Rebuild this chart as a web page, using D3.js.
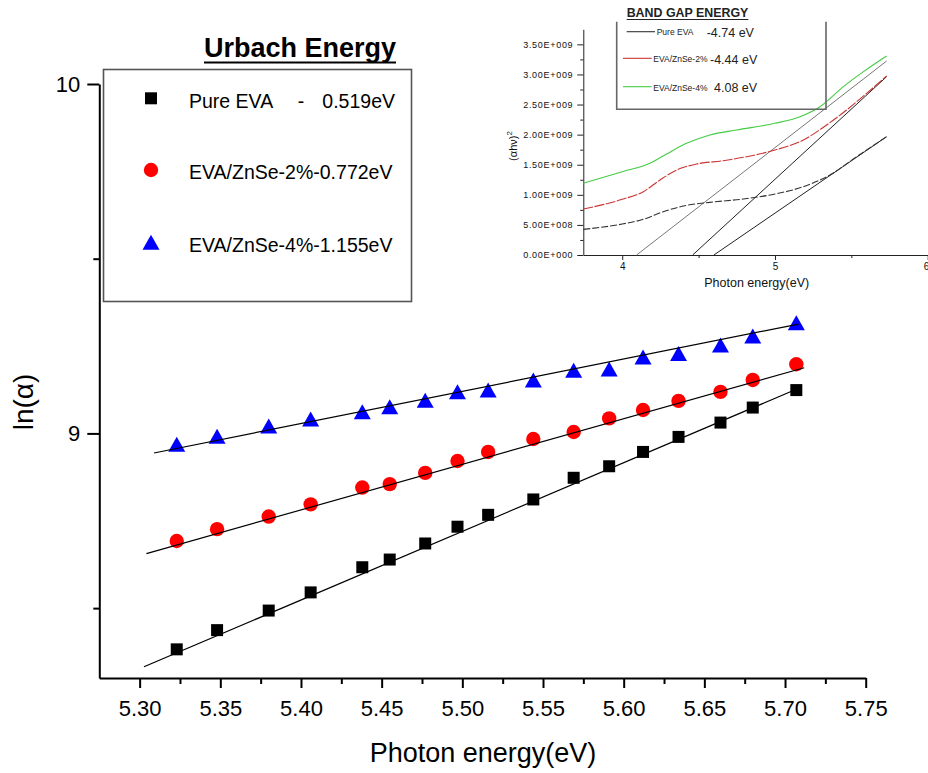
<!DOCTYPE html>
<html>
<head>
<meta charset="utf-8">
<script src="https://cdn.jsdelivr.net/npm/d3@7"></script>
<style>
  html, body { margin: 0; padding: 0; background: #fff; }
  svg { display: block; font-family: "Liberation Sans", Arial, sans-serif; }
</style>
</head>
<body>
<svg id="chart" width="928" height="773"></svg>
<script>
// ---------- Urbach plot: ln(alpha) vs photon energy ----------
const energy = [5.323, 5.348, 5.380, 5.406, 5.438, 5.455, 5.477, 5.497, 5.516,
                5.544, 5.569, 5.591, 5.612, 5.634, 5.660, 5.680, 5.707];
const lnAlphaPure  = [8.382, 8.437, 8.493, 8.545, 8.617, 8.639, 8.685, 8.733, 8.767,
                      8.811, 8.873, 8.906, 8.947, 8.990, 9.031, 9.074, 9.124];
const lnAlphaZnSe2 = [8.692, 8.726, 8.762, 8.797, 8.845, 8.855, 8.887, 8.921, 8.947,
                      8.984, 9.004, 9.043, 9.067, 9.093, 9.119, 9.153, 9.198];
const lnAlphaZnSe4 = [8.969, 8.992, 9.021, 9.041, 9.062, 9.076, 9.095, 9.119, 9.124,
                      9.153, 9.181, 9.184, 9.219, 9.229, 9.253, 9.279, 9.317];

// linear fit segments (start / end) for each sample
const fitEnergy = [[5.3027, 5.7088], [5.3042, 5.7119], [5.3089, 5.7084]];
const fitLnAlpha = [[8.332, 9.130], [8.656, 9.188], [8.944, 9.313]];

const seriesNames = ["Pure EVA", "EVA/ZnSe-2%-0.772eV", "EVA/ZnSe-4%-1.155eV"];
const xMajorTicks = [5.30, 5.35, 5.40, 5.45, 5.50, 5.55, 5.60, 5.65, 5.70, 5.75];
const xMinorTicks = [5.325, 5.375, 5.425, 5.475, 5.525, 5.575, 5.625, 5.675, 5.725];
const yMajorTicks = [9, 10];
const yMinorTicks = [8.5, 9.5];

// ---------- Inset: band gap (alpha h nu)^2 vs photon energy ----------
const gapEnergyPure = [3.745, 4.0, 4.138, 4.269, 4.400, 4.574, 4.793, 5.0, 5.186, 5.360, 5.535, 5.731];
const gapPure       = [0.426, 0.515, 0.593, 0.720, 0.814, 0.875, 0.930, 1.013, 1.135, 1.329, 1.634, 1.966];
const gapEnergy2    = [3.745, 4.0, 4.138, 4.247, 4.356, 4.487, 4.662, 4.793, 5.0, 5.186, 5.338, 5.469, 5.600, 5.731];
const gap2          = [0.764, 0.925, 1.052, 1.246, 1.412, 1.512, 1.567, 1.623, 1.744, 1.911, 2.160, 2.409, 2.686, 2.974];
const gapEnergy4    = [3.745, 4.0, 4.181, 4.290, 4.421, 4.574, 4.749, 5.0, 5.164, 5.295, 5.448, 5.579, 5.731];
const gap4          = [1.191, 1.384, 1.523, 1.678, 1.855, 1.994, 2.077, 2.188, 2.298, 2.464, 2.797, 3.046, 3.306];
// tangent extrapolations to the energy axis (units of 1e9)
const tangentEnergy = [[4.094, 5.731], [4.461, 5.731], [4.600, 5.731]];
const tangentValue  = [[0, 3.223], [0, 2.963], [0, 1.966]];
const gapLegend = [
  { name: "Pure EVA", value: "-4.74 eV" },
  { name: "EVA/ZnSe-2%", value: "-4.44 eV" },
  { name: "EVA/ZnSe-4%", value: "4.08 eV" }
];
const insetYTicks = [0, 0.5, 1.0, 1.5, 2.0, 2.5, 3.0, 3.5];
const insetYMinor = [0.25, 0.75, 1.25, 1.75, 2.25, 2.75, 3.25];
const insetXTicks = [4, 5, 6];
const insetXMinor = [4.5, 5.5];

const svg = d3.select("#chart");
svg.append("rect").attr("width", 928).attr("height", 773).attr("fill", "#fff");

// ---------- main scales ----------
const x = d3.scaleLinear().domain([5.275, 5.75]).range([99.3, 865.7]);
const y = d3.scaleLinear().domain([8.3, 10]).range([678, 84]);

// marker shapes
const triangleType = {
  draw(ctx, size) {
    const w = size, h = size * 15 / 17;
    ctx.moveTo(0, -h / 2);
    ctx.lineTo(w / 2, h / 2);
    ctx.lineTo(-w / 2, h / 2);
    ctx.closePath();
  }
};
const squareType = {
  draw(ctx, size) { ctx.rect(-size / 2, -size / 2, size, size); }
};
const markers = [
  { shape: squareType, size: 12, fill: "#000000" },
  { shape: d3.symbolCircle, size: Math.PI * 7.2 * 7.2, fill: "#ff0000" },
  { shape: triangleType, size: 17, fill: "#0000ff" }
];
const seriesValues = [lnAlphaPure, lnAlphaZnSe2, lnAlphaZnSe4];

// axes
function styleAxis(g, w) {
  g.selectAll(".domain").attr("stroke", "#000").attr("stroke-width", w);
  g.selectAll(".tick line").attr("stroke", "#000").attr("stroke-width", w);
}
const gx = svg.append("g").attr("transform", "translate(0,678)");
gx.call(d3.axisBottom(x).tickValues(xMinorTicks).tickSize(6).tickSizeOuter(0).tickFormat(""))
  .call(g => g.select(".domain").remove());
styleAxis(gx, 2);
const gx2 = svg.append("g").attr("transform", "translate(0,678)");
gx2.call(d3.axisBottom(x).tickValues(xMajorTicks).tickSize(10).tickSizeOuter(0)
  .tickPadding(12).tickFormat(d3.format(".2f")));
styleAxis(gx2, 2);
gx2.selectAll("text").attr("font-size", 22).attr("fill", "#000")
  .attr("font-family", "'Liberation Sans', Arial, sans-serif");

const gy = svg.append("g").attr("transform", "translate(99.3,0)");
gy.call(d3.axisLeft(y).tickValues(yMinorTicks).tickSize(6).tickSizeOuter(0).tickFormat(""))
  .call(g => g.select(".domain").remove());
styleAxis(gy, 2);
const gy2 = svg.append("g").attr("transform", "translate(99.3,0)");
gy2.call(d3.axisLeft(y).tickValues(yMajorTicks).tickSize(12).tickSizeOuter(0)
  .tickPadding(7).tickFormat(d3.format("d")));
styleAxis(gy2, 2);
gy2.selectAll("text").attr("font-size", 22).attr("fill", "#000")
  .attr("font-family", "'Liberation Sans', Arial, sans-serif");

// axis titles
svg.append("text").attr("x", 483).attr("y", 762).attr("text-anchor", "middle")
  .attr("font-size", 27).text("Photon energy(eV)");
svg.append("text").attr("transform", "translate(33,402) rotate(-90)")
  .attr("text-anchor", "middle").attr("font-size", 28).text("ln(α)");

// data markers
seriesValues.forEach((vals, i) => {
  const m = markers[i];
  svg.append("g").selectAll("path").data(energy.map((e, k) => [e, vals[k]])).join("path")
    .attr("transform", d => `translate(${x(d[0])},${y(d[1])})`)
    .attr("d", d3.symbol().type(m.shape).size(m.size))
    .attr("fill", m.fill);
});

// linear fits drawn over markers
const fitLine = d3.line().x(d => x(d[0])).y(d => y(d[1]));
fitEnergy.forEach((ev, i) => {
  svg.append("path")
    .attr("d", fitLine(ev.map((e, k) => [e, fitLnAlpha[i][k]])))
    .attr("fill", "none").attr("stroke", "#000").attr("stroke-width", 1.2);
});

// title
const title = svg.append("text").attr("x", 300).attr("y", 57).attr("text-anchor", "middle")
  .attr("font-size", 27).attr("font-weight", "bold").text("Urbach Energy");
const tw = title.node().getComputedTextLength();
svg.append("line").attr("x1", 300 - tw / 2).attr("x2", 300 + tw / 2)
  .attr("y1", 62.5).attr("y2", 62.5).attr("stroke", "#000").attr("stroke-width", 2.2);

// legend
svg.append("rect").attr("x", 103.5).attr("y", 69.5).attr("width", 308).attr("height", 232)
  .attr("fill", "none").attr("stroke", "#555").attr("stroke-width", 1.6);
const legendRows = [98.3, 170, 242.3];
legendRows.forEach((ly, i) => {
  const m = markers[i];
  svg.append("path").attr("transform", `translate(151,${ly})`)
    .attr("d", d3.symbol().type(m.shape).size(m.size)).attr("fill", m.fill);
  svg.append("text").attr("x", 189).attr("y", ly + 9.2).attr("font-size", 19.5)
    .text(seriesNames[i]);
});
svg.append("text").attr("x", 301).attr("y", 107.5).attr("text-anchor", "middle")
  .attr("font-size", 19.5).text("-");
svg.append("text").attr("x", 395).attr("y", 107.5).attr("text-anchor", "end")
  .attr("font-size", 19.5).text("0.519eV");

// ---------- inset ----------
const ix = d3.scaleLinear().domain([3.745, 6.0]).range([583.3, 927.7]);
const iy = d3.scaleLinear().domain([0, 3.75]).range([255, 29.3]);
const sciFormat = v => {
  const n = v * 1e9;
  if (n === 0) return "0.00E+000";
  const p = Math.floor(Math.log10(n));
  return (n / Math.pow(10, p)).toFixed(2) + "E+" + String(p).padStart(3, "0");
};
function styleInset(g) {
  g.selectAll(".domain").attr("stroke", "#222").attr("stroke-width", 1);
  g.selectAll(".tick line").attr("stroke", "#222").attr("stroke-width", 1);
  g.selectAll("text").attr("font-size", 10).attr("fill", "#111")
    .attr("font-family", "'Liberation Sans', Arial, sans-serif");
}
const ig = svg.append("g");
const igx = ig.append("g").attr("transform", "translate(0,255)");
igx.call(d3.axisBottom(ix).tickValues(insetXMinor).tickSize(3).tickSizeOuter(0).tickFormat(""))
  .call(g => g.select(".domain").remove());
styleInset(igx);
const igx2 = ig.append("g").attr("transform", "translate(0,255)");
igx2.call(d3.axisBottom(ix).tickValues(insetXTicks).tickSize(5).tickSizeOuter(0).tickPadding(3)
  .tickFormat(d3.format("d")));
styleInset(igx2);
// last label sits at the right edge of the page
igx2.selectAll(".tick text").filter(d => d === 6).attr("text-anchor", "end").attr("dx", 1);
const igy = ig.append("g").attr("transform", "translate(583.3,0)");
igy.call(d3.axisLeft(iy).tickValues(insetYMinor).tickSize(3).tickSizeOuter(0).tickFormat(""))
  .call(g => g.select(".domain").remove());
styleInset(igy);
const igy2 = ig.append("g").attr("transform", "translate(583.3,0)");
igy2.call(d3.axisLeft(iy).tickValues(insetYTicks).tickSize(6).tickSizeOuter(0).tickPadding(4)
  .tickFormat(sciFormat));
styleInset(igy2);
igy2.selectAll("text").attr("font-size", 9).attr("letter-spacing", 0.7);

ig.append("text").attr("x", 756.7).attr("y", 287).attr("text-anchor", "middle")
  .attr("font-size", 12.5).attr("fill", "#111").text("Photon energy(eV)");
const iyl = ig.append("text").attr("transform", "translate(517,146) rotate(-90)")
  .attr("text-anchor", "middle").attr("font-size", 11).attr("fill", "#111");
iyl.append("tspan").text("(αhν)");
iyl.append("tspan").attr("font-size", 8).attr("dy", -5).text("2");

const curve = d3.line().x(d => ix(d[0])).y(d => iy(d[1])).curve(d3.curveMonotoneX);
const straight = d3.line().x(d => ix(d[0])).y(d => iy(d[1]));
// tangent lines
const tangentColors = ["#777", "#222", "#222"];
tangentEnergy.forEach((ev, i) => {
  ig.append("path").attr("d", straight(ev.map((e, k) => [e, tangentValue[i][k]])))
    .attr("fill", "none").attr("stroke", tangentColors[i]).attr("stroke-width", 1);
});
ig.append("path").attr("d", curve(gapEnergyPure.map((e, k) => [e, gapPure[k]])))
  .attr("fill", "none").attr("stroke", "#333").attr("stroke-width", 1.1)
  .attr("stroke-dasharray", "7,2");
ig.append("path").attr("d", curve(gapEnergy2.map((e, k) => [e, gap2[k]])))
  .attr("fill", "none").attr("stroke", "#cc3333").attr("stroke-width", 1.1)
  .attr("stroke-dasharray", "10,1.5");
ig.append("path").attr("d", curve(gapEnergy4.map((e, k) => [e, gap4[k]])))
  .attr("fill", "none").attr("stroke", "#44cc44").attr("stroke-width", 1.1);

// inset title
const it = ig.append("text").attr("x", 687.5).attr("y", 17.3).attr("text-anchor", "middle")
  .attr("font-size", 12.4).attr("font-weight", "bold").attr("fill", "#222").text("BAND GAP ENERGY");
const itw = it.node().getComputedTextLength();
ig.append("line").attr("x1", 687.5 - itw / 2).attr("x2", 687.5 + itw / 2)
  .attr("y1", 19.5).attr("y2", 19.5).attr("stroke", "#222").attr("stroke-width", 1.2);

// inset legend
ig.append("path").attr("d", "M616.7,21.7 V109.3 H826 V21.7")
  .attr("fill", "none").attr("stroke", "#666").attr("stroke-width", 1.6);
const legColors = ["#333", "#cc3333", "#44cc44"];
const legRows = [
  { y: 31.7, lx: [626.7, 655], nx: 656.7, vx: 706.7, base: 35.5 },
  { y: 58.3, lx: [623, 651.7], nx: 653.3, vx: 710, base: 62.8 },
  { y: 86.7, lx: [623, 651.7], nx: 653.3, vx: 714, base: 91.3 }
];
legRows.forEach((r, i) => {
  ig.append("line").attr("x1", r.lx[0]).attr("x2", r.lx[1]).attr("y1", r.y).attr("y2", r.y)
    .attr("stroke", legColors[i]).attr("stroke-width", 1.1);
  ig.append("text").attr("x", r.nx).attr("y", r.base - 0.5).attr("font-size", 8.5)
    .attr("fill", "#222").text(gapLegend[i].name);
  ig.append("text").attr("x", r.vx).attr("y", r.base + 1).attr("font-size", 12.5)
    .attr("fill", "#222").text(gapLegend[i].value);
});
</script>
</body>
</html>
